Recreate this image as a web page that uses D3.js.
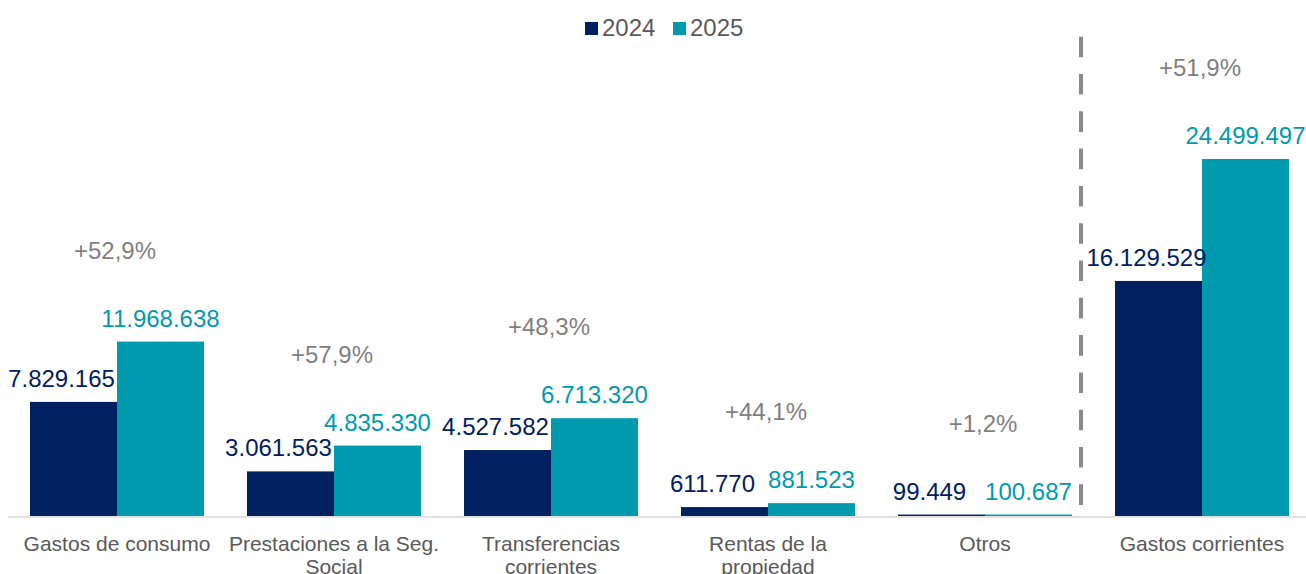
<!DOCTYPE html>
<html>
<head>
<meta charset="utf-8">
<script src="https://cdn.jsdelivr.net/npm/d3@7"></script>
<style>
  body { margin: 0; background: #fff; }
  text { font-family: "Liberation Sans", Arial, sans-serif; }
</style>
</head>
<body>
<div id="chart"></div>
<script>
// Data
var categories = ['Gastos de consumo', 'Prestaciones a la Seg.|Social', 'Transferencias|corrientes',
                  'Rentas de la|propiedad', 'Otros', 'Gastos corrientes'];
var years = ['2024', '2025'];
var values2024 = [7829165, 3061563, 4527582, 611770, 99449, 16129529];
var values2025 = [11968638, 4835330, 6713320, 881523, 100687, 24499497];
var changeLabels = ['+52,9%', '+57,9%', '+48,3%', '+44,1%', '+1,2%', '+51,9%'];

var width = 1306,
    height = 574,
    baseline = 516,
    colors = { '2024': '#002060', '2025': '#009aae' };

var svg = d3.select('#chart').append('svg')
    .attr('width', width)
    .attr('height', height);

// Scales
var x0 = d3.scaleBand().domain(categories).range([8.5, 1310.5]).padding(0);
var x1 = d3.scaleBand().domain(years).range([21.5, 195.5]).padding(0);
var y = d3.scaleLinear().domain([0, 25000000]).range([baseline, 151.7]);

var fmt = function(v) { return d3.format(',')(v).replace(/,/g, '.'); };

var rows = categories.map(function(c, i) {
  return { cat: c, '2024': values2024[i], '2025': values2025[i], change: changeLabels[i] };
});

// Bars
var groups = svg.selectAll('g.group').data(rows).enter()
  .append('g')
    .attr('class', 'group')
    .attr('transform', function(d) { return 'translate(' + x0(d.cat) + ',0)'; });

groups.selectAll('rect').data(function(d) {
    return years.map(function(yr) { return { year: yr, value: d[yr] }; });
  }).enter()
  .append('rect')
    .attr('x', function(d) { return x1(d.year); })
    .attr('y', function(d) { return Math.min(y(d.value), baseline - 1); })
    .attr('width', x1.bandwidth())
    .attr('height', function(d) { return Math.max(baseline - y(d.value), 1); })
    .attr('fill', function(d) { return colors[d.year]; });

// Value labels
groups.selectAll('text.value').data(function(d) {
    return years.map(function(yr) { return { year: yr, value: d[yr] }; });
  }).enter()
  .append('text')
    .attr('class', 'value')
    .attr('text-anchor', 'middle')
    .attr('x', function(d) { return x1(d.year) + x1.bandwidth() / 2 + (d.year === '2024' ? -12 : 0); })
    .attr('y', function(d) { return y(d.value) - 15; })
    .attr('font-size', 24)
    .attr('fill', function(d) { return colors[d.year]; })
    .text(function(d) { return fmt(d.value); });

// Change labels
groups.append('text')
    .attr('text-anchor', 'middle')
    .attr('x', x0.bandwidth() / 2 - 2)
    .attr('y', function(d) { return y(d['2025']) - 83; })
    .attr('font-size', 24)
    .attr('fill', '#7f7f7f')
    .text(function(d) { return d.change; });

// Axis line
svg.append('line')
    .attr('x1', 8).attr('x2', 1306)
    .attr('y1', baseline + 1).attr('y2', baseline + 1)
    .attr('stroke', '#d9d9d9')
    .attr('stroke-width', 1.5);

// Category labels
var catText = svg.selectAll('text.cat').data(categories).enter()
  .append('text')
    .attr('class', 'cat')
    .attr('text-anchor', 'middle')
    .attr('x', function(d) { return x0(d) + x0.bandwidth() / 2; })
    .attr('y', 551)
    .attr('font-size', 21)
    .attr('fill', '#595959');

catText.selectAll('tspan').data(function(d) { return d.split('|'); }).enter()
  .append('tspan')
    .attr('x', function() { var p = d3.select(this.parentNode).datum(); return x0(p) + x0.bandwidth() / 2; })
    .attr('dy', function(d, i) { return i ? 23 : 0; })
    .text(function(d) { return d; });

// Dashed separator
svg.append('line')
    .attr('x1', 1081).attr('x2', 1081)
    .attr('y1', 36.7).attr('y2', 507)
    .attr('stroke', '#898989')
    .attr('stroke-width', 4)
    .attr('stroke-dasharray', '20.6,16.7');

// Legend
var legend = svg.selectAll('g.legend').data(years).enter()
  .append('g')
    .attr('class', 'legend')
    .attr('transform', function(d, i) { return 'translate(' + (585 + i * 88) + ',0)'; });

legend.append('rect')
    .attr('x', 0).attr('y', 22)
    .attr('width', 13).attr('height', 13)
    .attr('fill', function(d) { return colors[d]; });

legend.append('text')
    .attr('x', 17).attr('y', 36)
    .attr('font-size', 24)
    .attr('fill', '#595959')
    .text(function(d) { return d; });
</script>
</body>
</html>
